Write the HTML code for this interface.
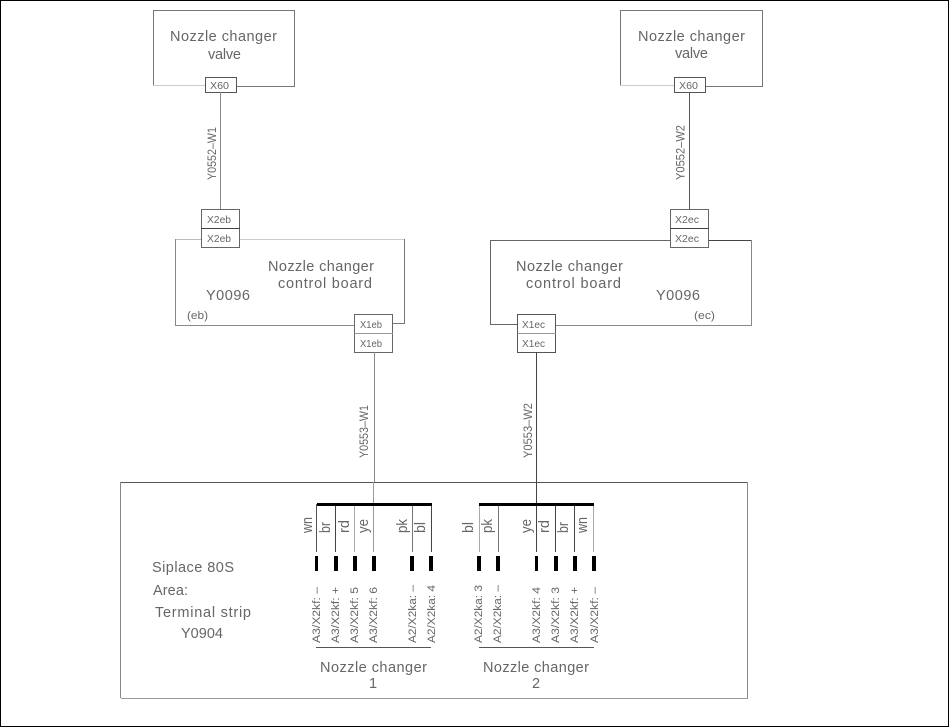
<!DOCTYPE html>
<html><head><meta charset="utf-8"><style>
html,body{margin:0;padding:0;background:#fff;width:949px;height:727px;overflow:hidden}
svg{display:block}
text{font-family:"Liberation Sans",sans-serif;fill:#666}
.l{font-size:14.5px}
.m{font-size:10.5px}
.c{font-size:11.5px}
.s{font-size:11px}
.w{font-size:15px}
.t{font-size:11px}
line,path,rect{shape-rendering:crispEdges}
</style></head><body>
<svg width="949" height="727" viewBox="0 0 949 727" xmlns="http://www.w3.org/2000/svg">
<rect x="0" y="0" width="949" height="727" fill="#fff"/>
<path d="M0.5 0.5H948.5V726.5H0.5Z" fill="none" stroke="#000" stroke-width="1"/>

<g fill="none" stroke-width="1">
<!-- valve 1 -->
<path d="M153.5 86V10.5H294.5V86.5H236" stroke="#777"/>
<path d="M153 85.5H205" stroke="#ccc"/>
<rect x="205.5" y="77.5" width="31" height="15" stroke="#555" fill="#fff"/>
<path d="M220.5 92V209" stroke="#888"/>
<!-- valve 2 -->
<path d="M620.5 86V10.5H762.5V86.5H705" stroke="#777"/>
<path d="M620 85.5H674" stroke="#ccc"/>
<rect x="674.5" y="77.5" width="31" height="15" stroke="#555" fill="#fff"/>
<path d="M689.5 92V209" stroke="#555"/>

<!-- board 1 -->
<path d="M240 239.5H404" stroke="#ccc"/>
<path d="M201 239.5H175.5" stroke="#bbb"/>
<path d="M175.5 239V325.5H354" stroke="#888"/>
<path d="M404.5 239V323.5H393" stroke="#777"/>
<rect x="201.5" y="209.5" width="38" height="38" stroke="#666" fill="#fff"/>
<path d="M201.5 228.5H240" stroke="#444"/>
<rect x="354.5" y="314.5" width="38" height="38" stroke="#666" fill="#fff"/>
<path d="M354.5 333.5H393" stroke="#999"/>
<path d="M374.5 352V482" stroke="#888"/>

<!-- board 2 -->
<path d="M670 240.5H490.5V324.5H517" stroke="#666"/>
<path d="M709 240.5H751.5" stroke="#444"/>
<path d="M751.5 240V325.5H556" stroke="#888"/>
<rect x="670.5" y="209.5" width="38" height="38" stroke="#666" fill="#fff"/>
<path d="M670.5 228.5H709" stroke="#444"/>
<rect x="517.5" y="314.5" width="38" height="38" stroke="#555" fill="#fff"/>
<path d="M517.5 333.5H556" stroke="#999"/>
<path d="M536.5 352V482" stroke="#444"/>

<!-- main box -->
<path d="M121 482.5H748" stroke="#555"/>
<path d="M747.5 482V698" stroke="#888"/>
<path d="M120.5 482V698" stroke="#888"/>
<path d="M121 698.5H748" stroke="#999"/>

<!-- bus drops group 1 -->
<path d="M316.5 504V552" stroke="#555"/>
<path d="M335.5 504V552" stroke="#444"/>
<path d="M354.5 504V552" stroke="#aaa"/>
<path d="M373.5 482V552" stroke="#999"/>
<path d="M412.5 504V552" stroke="#777"/>
<path d="M431.5 504V552" stroke="#444"/>
<!-- bus drops group 2 -->
<path d="M479.5 504V552" stroke="#aaa"/>
<path d="M498.5 504V552" stroke="#777"/>
<path d="M536.5 482V552" stroke="#444"/>
<path d="M555.5 504V552" stroke="#444"/>
<path d="M574.5 504V552" stroke="#444"/>
<path d="M593.5 504V552" stroke="#aaa"/>
<!-- underlines -->
<path d="M316 647.5H431" stroke="#555"/>
<path d="M479 647.5H594" stroke="#555"/>
</g>

<g fill="#000">
<rect x="317" y="503" width="115" height="3"/>
<rect x="479" y="503" width="115" height="3"/>
<rect x="315" y="556" width="3" height="15"/>
<rect x="334" y="556" width="4" height="15"/>
<rect x="353" y="556" width="4" height="15"/>
<rect x="372" y="556" width="4" height="15"/>
<rect x="410" y="556" width="4" height="15"/>
<rect x="429" y="556" width="4" height="15"/>
<rect x="477" y="556" width="4" height="15"/>
<rect x="496" y="556" width="4" height="15"/>
<rect x="535" y="556" width="3" height="15"/>
<rect x="554" y="556" width="4" height="15"/>
<rect x="573" y="556" width="4" height="15"/>
<rect x="592" y="556" width="4" height="15"/>
</g>

<!-- main labels -->
<text class="l" x="170" y="41" textLength="107" lengthAdjust="spacing">Nozzle changer</text>
<text class="l" x="208" y="59" textLength="33" lengthAdjust="spacing">valve</text>
<text class="l" x="638" y="41" textLength="107" lengthAdjust="spacing">Nozzle changer</text>
<text class="l" x="675" y="58" textLength="33" lengthAdjust="spacing">valve</text>

<text class="l" x="268" y="271" textLength="106" lengthAdjust="spacing">Nozzle changer</text>
<text class="l" x="278" y="288" textLength="94" lengthAdjust="spacing">control board</text>
<text class="l" x="206" y="300" textLength="44" lengthAdjust="spacing">Y0096</text>
<text class="s" x="187" y="319" textLength="21" lengthAdjust="spacingAndGlyphs">(eb)</text>

<text class="l" x="516" y="271" textLength="107" lengthAdjust="spacing">Nozzle changer</text>
<text class="l" x="526" y="288" textLength="95" lengthAdjust="spacing">control board</text>
<text class="l" x="656" y="300" textLength="44" lengthAdjust="spacing">Y0096</text>
<text class="s" x="694" y="319" textLength="21" lengthAdjust="spacingAndGlyphs">(ec)</text>

<!-- connector labels -->
<text class="m" x="210" y="89" textLength="19" lengthAdjust="spacingAndGlyphs">X60</text>
<text class="m" x="679" y="89" textLength="19" lengthAdjust="spacingAndGlyphs">X60</text>
<text class="m" x="207" y="223" textLength="24" lengthAdjust="spacingAndGlyphs">X2eb</text>
<text class="m" x="207" y="242" textLength="24" lengthAdjust="spacingAndGlyphs">X2eb</text>
<text class="m" x="360" y="328" textLength="22" lengthAdjust="spacingAndGlyphs">X1eb</text>
<text class="m" x="360" y="347" textLength="22" lengthAdjust="spacingAndGlyphs">X1eb</text>
<text class="m" x="675" y="223" textLength="24" lengthAdjust="spacingAndGlyphs">X2ec</text>
<text class="m" x="675" y="242" textLength="24" lengthAdjust="spacingAndGlyphs">X2ec</text>
<text class="m" x="522" y="328" textLength="23" lengthAdjust="spacingAndGlyphs">X1ec</text>
<text class="m" x="522" y="347" textLength="23" lengthAdjust="spacingAndGlyphs">X1ec</text>

<!-- cable labels -->
<text class="c" transform="translate(216 180) rotate(-90)" textLength="53" lengthAdjust="spacingAndGlyphs">Y0552–W1</text>
<text class="c" transform="translate(684.5 180) rotate(-90)" textLength="55" lengthAdjust="spacingAndGlyphs">Y0552–W2</text>
<text class="c" transform="translate(368 458) rotate(-90)" textLength="53" lengthAdjust="spacingAndGlyphs">Y0553–W1</text>
<text class="c" transform="translate(532 458) rotate(-90)" textLength="55" lengthAdjust="spacingAndGlyphs">Y0553–W2</text>

<!-- wire colours -->
<text class="w" transform="translate(312 533) rotate(-90)" textLength="16" lengthAdjust="spacingAndGlyphs">wn</text>
<text class="w" transform="translate(330 533) rotate(-90)" textLength="11" lengthAdjust="spacingAndGlyphs">br</text>
<text class="w" transform="translate(349 533) rotate(-90)" textLength="13" lengthAdjust="spacingAndGlyphs">rd</text>
<text class="w" transform="translate(368 533) rotate(-90)" textLength="14" lengthAdjust="spacingAndGlyphs">ye</text>
<text class="w" transform="translate(407 533) rotate(-90)" textLength="14" lengthAdjust="spacingAndGlyphs">pk</text>
<text class="w" transform="translate(425 533) rotate(-90)" textLength="11" lengthAdjust="spacingAndGlyphs">bl</text>

<text class="w" transform="translate(473 533) rotate(-90)" textLength="11" lengthAdjust="spacingAndGlyphs">bl</text>
<text class="w" transform="translate(492 533) rotate(-90)" textLength="14" lengthAdjust="spacingAndGlyphs">pk</text>
<text class="w" transform="translate(531 533) rotate(-90)" textLength="14" lengthAdjust="spacingAndGlyphs">ye</text>
<text class="w" transform="translate(549 533) rotate(-90)" textLength="13" lengthAdjust="spacingAndGlyphs">rd</text>
<text class="w" transform="translate(568 533) rotate(-90)" textLength="11" lengthAdjust="spacingAndGlyphs">br</text>
<text class="w" transform="translate(587 533) rotate(-90)" textLength="16" lengthAdjust="spacingAndGlyphs">wn</text>

<!-- terminals -->
<text class="t" transform="translate(320 643) rotate(-90)" textLength="56" lengthAdjust="spacingAndGlyphs">A3/X2kf: –</text>
<text class="t" transform="translate(339 643) rotate(-90)" textLength="56" lengthAdjust="spacingAndGlyphs">A3/X2kf: +</text>
<text class="t" transform="translate(358 643) rotate(-90)" textLength="56" lengthAdjust="spacingAndGlyphs">A3/X2kf: 5</text>
<text class="t" transform="translate(377 643) rotate(-90)" textLength="56" lengthAdjust="spacingAndGlyphs">A3/X2kf: 6</text>
<text class="t" transform="translate(416 643) rotate(-90)" textLength="58" lengthAdjust="spacingAndGlyphs">A2/X2ka: –</text>
<text class="t" transform="translate(435 643) rotate(-90)" textLength="58" lengthAdjust="spacingAndGlyphs">A2/X2ka: 4</text>

<text class="t" transform="translate(482 643) rotate(-90)" textLength="58" lengthAdjust="spacingAndGlyphs">A2/X2ka: 3</text>
<text class="t" transform="translate(501 643) rotate(-90)" textLength="58" lengthAdjust="spacingAndGlyphs">A2/X2ka: –</text>
<text class="t" transform="translate(540 643) rotate(-90)" textLength="56" lengthAdjust="spacingAndGlyphs">A3/X2kf: 4</text>
<text class="t" transform="translate(559 643) rotate(-90)" textLength="56" lengthAdjust="spacingAndGlyphs">A3/X2kf: 3</text>
<text class="t" transform="translate(578 643) rotate(-90)" textLength="56" lengthAdjust="spacingAndGlyphs">A3/X2kf: +</text>
<text class="t" transform="translate(598 643) rotate(-90)" textLength="56" lengthAdjust="spacingAndGlyphs">A3/X2kf: –</text>

<!-- group titles -->
<text class="l" x="320" y="672" textLength="107" lengthAdjust="spacing">Nozzle changer</text>
<text class="l" x="369" y="688">1</text>
<text class="l" x="483" y="672" textLength="106" lengthAdjust="spacing">Nozzle changer</text>
<text class="l" x="532" y="688">2</text>

<!-- left block -->
<text class="l" x="152" y="572" textLength="82" lengthAdjust="spacing">Siplace 80S</text>
<text class="l" x="153" y="595" textLength="35" lengthAdjust="spacing">Area:</text>
<text class="l" x="155" y="617" textLength="96" lengthAdjust="spacing">Terminal strip</text>
<text class="l" x="181" y="638" textLength="42" lengthAdjust="spacing">Y0904</text>
</svg>
</body></html>
